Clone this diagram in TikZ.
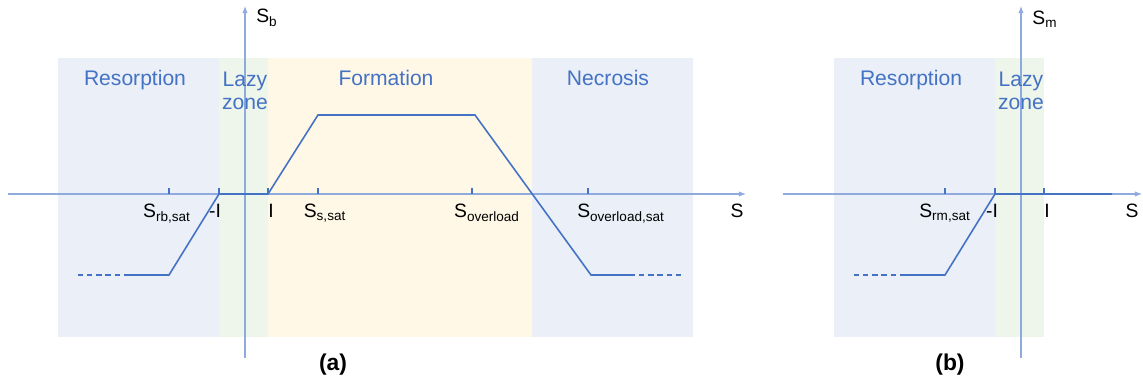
\documentclass[tikz,border=0pt]{standalone}
\usepackage{fontspec}
\setmainfont{Liberation Sans}
\usetikzlibrary{arrows.meta}
\definecolor{curveblue}{HTML}{4472C4}
\definecolor{axisblue}{HTML}{8FAADC}
\definecolor{resfill}{HTML}{EAEFF8}
\definecolor{lazyfill}{HTML}{EEF5EB}
\definecolor{formfill}{HTML}{FFF8E6}

\begin{document}
\begin{tikzpicture}[x=0.2mm, y=-0.2mm,
	axis/.style = {draw=axisblue, line width=0.6pt, -{Latex[length=4pt,width=3pt]}},
	curve/.style = {draw=curveblue, line width=0.9pt},
	tail/.style = {curve, dash pattern=on 3pt off 2.2pt},
	tick/.style = {draw=curveblue, line width=0.9pt},
	ticklabel/.style = {anchor=base, inner sep=0pt, font=\fontsize{11}{13}\selectfont},
	zonelabel/.style = {anchor=base, inner sep=0pt, align=center, text=curveblue, font=\fontsize{12}{13.6}\selectfont},
	panel/.style = {anchor=base, inner sep=0pt, font=\bfseries\fontsize{13}{15}\selectfont}]
	\useasboundingbox (0,0) rectangle (1143,382);

	%Zones of panel (a)
	\fill[resfill] (58,58) rectangle (219,337);
	\fill[lazyfill] (219,58) rectangle (268,337);
	\fill[formfill] (268,58) rectangle (532,337);
	\fill[resfill] (532,58) rectangle (693,337);
	%Zones of panel (b)
	\fill[resfill] (834,58) rectangle (995,337);
	\fill[lazyfill] (995,58) rectangle (1044,337);

	%Axes of panel (a)
	\coordinate (ax0) at (8,194);
	\coordinate (ax1) at (746,194);
	\coordinate (ay0) at (245,358);
	\coordinate (ay1) at (245,6);
	\draw[axis] (ax0) -- (ax1);
	\draw[axis] (ay0) -- (ay1);
	%Axes of panel (b)
	\coordinate (bx0) at (783,194);
	\coordinate (bx1) at (1142,194);
	\coordinate (by0) at (1021,358);
	\coordinate (by1) at (1021,6);
	\draw[axis] (bx0) -- (bx1);
	\draw[axis] (by0) -- (by1);

	%Ticks of panel (a)
	\foreach \x/\n in {169/ta1, 219/ta2, 268/ta3, 318/ta4, 472/ta5, 588/ta6}
		\draw[tick] (\x,194) coordinate (\n) -- ++(0,-6);
	%Ticks of panel (b)
	\foreach \x/\n in {945/tb1, 995/tb2, 1044/tb3}
		\draw[tick] (\x,194) coordinate (\n) -- ++(0,-6);

	%Curve of panel (a)
	\coordinate (a1) at (78,275);
	\coordinate (a2) at (127,275);
	\coordinate (a3) at (169,275);
	\coordinate (a4) at (219,194);
	\coordinate (a5) at (268,194);
	\coordinate (a6) at (318,115);
	\coordinate (a7) at (475,115);
	\coordinate (a8) at (591,275);
	\coordinate (a9) at (630,275);
	\coordinate (a10) at (682,275);
	\draw[tail] (a1) -- (a2); %Left tail
	\draw[curve] (a2) -- (a3) -- (a4) -- (a5) -- (a6) -- (a7) -- (a8) -- (a9);
	\draw[tail] (a9) -- (a10); %Right tail

	%Curve of panel (b)
	\coordinate (b1) at (854,275);
	\coordinate (b2) at (903,275);
	\coordinate (b3) at (945,275);
	\coordinate (b4) at (995,194);
	\coordinate (b5) at (1112,194);
	\draw[tail] (b1) -- (b2); %Left tail
	\draw[curve] (b2) -- (b3) -- (b4) -- (b5);

	%Tick labels of panel (a)
	\node[ticklabel] (lrb) at (167,218) {S\textsubscript{rb,sat}};
	\node[ticklabel] (lma) at (215,218) {-I};
	\node[ticklabel] (lpa) at (271,218) {I};
	\node[ticklabel] (lss) at (325,218) {S\textsubscript{s,sat}};
	\node[ticklabel] (lov) at (487,218) {S\textsubscript{overload}};
	\node[ticklabel] (lovs) at (621,218) {S\textsubscript{overload,sat}};
	\node[ticklabel] (lsa) at (737,218) {S};
	\node[ticklabel, anchor=base west] (lsb) at (256,23) {S\textsubscript{b}};
	%Tick labels of panel (b)
	\node[ticklabel] (lrm) at (945,218) {S\textsubscript{rm,sat}};
	\node[ticklabel] (lmb) at (992,218) {-I};
	\node[ticklabel] (lpb) at (1047,218) {I};
	\node[ticklabel] (lsb2) at (1132,218) {S};
	\node[ticklabel, anchor=base west] (lsm) at (1032,25) {S\textsubscript{m}};

	%Zone names
	\node[zonelabel] (res) at (135,86) {Resorption};
	\node[zonelabel] (lazy) at (245,110) {Lazy\\zone};
	\node[zonelabel] (form) at (386,86) {Formation};
	\node[zonelabel] (necr) at (608,86) {Necrosis};
	\node[zonelabel] (resb) at (911,86) {Resorption};
	\node[zonelabel] (lazyb) at (1021,110) {Lazy\\zone};

	%Panel names
	\node[panel] (pa) at (333,371) {(a)};
	\node[panel] (pb) at (950,371) {(b)};
\end{tikzpicture}
\end{document}
